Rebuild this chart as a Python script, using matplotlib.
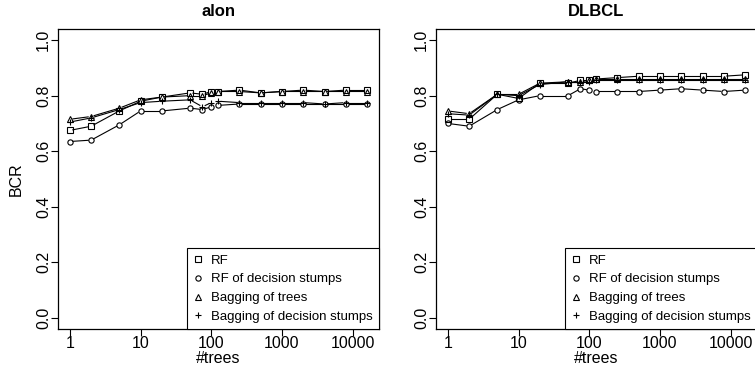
import numpy as np
import matplotlib
matplotlib.use("Agg")
from matplotlib import pyplot as plt

plt.rcParams['font.family'] = ['Liberation Sans', 'DejaVu Sans']
plt.rcParams['font.size'] = 11.5

ntrees = [1, 2, 5, 10, 20, 50, 75, 100, 125, 250, 500, 1000, 2000, 4000, 8000, 16000]
labels = ["RF", "RF of decision stumps", "Bagging of trees", "Bagging of decision stumps"]
markers = ["s", "o", "^", "+"]

# alon
alon_rf = [0.675, 0.69, 0.745, 0.78, 0.795, 0.81, 0.805, 0.815, 0.815, 0.82, 0.81, 0.815, 0.82, 0.815, 0.82, 0.82]
alon_rf_stumps = [0.635, 0.64, 0.695, 0.745, 0.745, 0.755, 0.75, 0.76, 0.765, 0.77, 0.77, 0.77, 0.77, 0.77, 0.77, 0.77]
alon_bag_trees = [0.715, 0.725, 0.755, 0.785, 0.795, 0.80, 0.80, 0.81, 0.815, 0.815, 0.81, 0.815, 0.815, 0.815, 0.815, 0.815]
alon_bag_stumps = [0.705, 0.72, 0.75, 0.775, 0.78, 0.785, 0.76, 0.775, 0.78, 0.775, 0.775, 0.775, 0.775, 0.77, 0.775, 0.775]

# DLBCL
dlbcl_rf = [0.715, 0.715, 0.805, 0.79, 0.845, 0.845, 0.855, 0.855, 0.86, 0.865, 0.87, 0.87, 0.87, 0.87, 0.87, 0.875]
dlbcl_rf_stumps = [0.70, 0.69, 0.75, 0.785, 0.80, 0.80, 0.825, 0.82, 0.815, 0.815, 0.815, 0.82, 0.825, 0.82, 0.815, 0.82]
dlbcl_bag_trees = [0.745, 0.735, 0.805, 0.805, 0.845, 0.85, 0.85, 0.855, 0.86, 0.86, 0.86, 0.86, 0.86, 0.86, 0.86, 0.86]
dlbcl_bag_stumps = [0.735, 0.73, 0.805, 0.80, 0.84, 0.85, 0.85, 0.85, 0.855, 0.855, 0.855, 0.855, 0.855, 0.855, 0.855, 0.855]

W, H = 755, 370
fig = plt.figure(figsize=(W / 100.0, H / 100.0), dpi=100)


def gapped_line(ax, xs, ys, gap=3.0):
    # R type="b": segments stop short of the points
    pts = ax.transData.transform(np.column_stack([xs, ys]))
    inv = ax.transData.inverted()
    for p0, p1 in zip(pts[:-1], pts[1:]):
        d = np.hypot(*(p1 - p0))
        if d <= 2 * gap + 1:
            continue
        u = (p1 - p0) / d
        a = inv.transform(p0 + gap * u)
        b = inv.transform(p1 - gap * u)
        ax.plot([a[0], b[0]], [a[1], b[1]], color="black", lw=0.8)


def panel(left, title, series, ylabel=None):
    ax = fig.add_axes([left / W, (H - 329) / H, 321 / W, 300 / H])
    ax.set_xscale("log")
    lo, hi = np.log10(ntrees[0]), np.log10(ntrees[-1])
    pad = 0.04 * (hi - lo)
    ax.set_xlim(10 ** (lo - pad), 10 ** (hi + pad))
    ax.set_ylim(-0.04, 1.04)
    ax.set_xticks([1, 10, 100, 1000, 10000])
    ax.set_xticklabels(["1", "10", "100", "1000", "10000"])
    ax.minorticks_off()
    ax.set_yticks([0.0, 0.2, 0.4, 0.6, 0.8, 1.0])
    ax.set_yticklabels(["0.0", "0.2", "0.4", "0.6", "0.8", "1.0"], rotation=90, va="center")
    ax.tick_params(direction="out", length=5, width=0.8)
    ax.tick_params(axis="x", pad=0)
    ax.tick_params(axis="y", pad=0)
    for s in ax.spines.values():
        s.set_linewidth(0.9)

    for vals, m, lab in zip(series, markers, labels):
        gapped_line(ax, ntrees, vals)
        ax.plot(ntrees, vals, linestyle="none", marker=m, markersize=3.8 if m != "+" else 5,
                markerfacecolor="none", markeredgecolor="black", markeredgewidth=0.8, label=lab)

    ax.set_title(title, fontweight="bold", fontsize=12, pad=9)
    ax.set_xlabel("#trees", labelpad=0)
    if ylabel:
        ax.set_ylabel(ylabel, labelpad=9)
    leg = ax.legend(loc="lower right", borderaxespad=0, fancybox=False, framealpha=1,
                    edgecolor="black", handlelength=0.8, handletextpad=0.6,
                    labelspacing=0.5, borderpad=0.45, fontsize=9.5)
    leg.get_frame().set_linewidth(0.8)
    return ax


panel(58, "alon", [alon_rf, alon_rf_stumps, alon_bag_trees, alon_bag_stumps], ylabel="BCR")
panel(436, "DLBCL", [dlbcl_rf, dlbcl_rf_stumps, dlbcl_bag_trees, dlbcl_bag_stumps])

fig.savefig("out.png", dpi=100)
